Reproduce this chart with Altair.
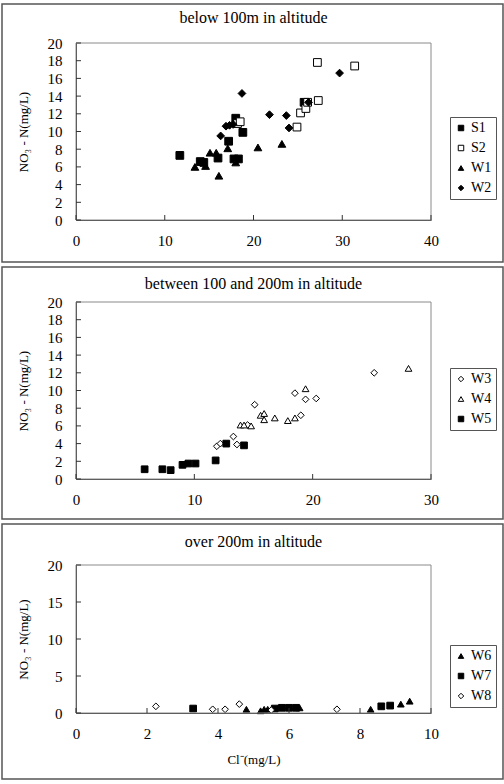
import altair as alt
import pandas as pd

# ---- below 100 m ----
S1_cl = [11.7, 14.0, 14.4, 16.0, 17.2, 18.0, 17.8, 18.3, 18.8, 25.7]
S1_no3 = [7.3, 6.6, 6.5, 7.0, 8.9, 11.5, 6.9, 6.9, 9.9, 13.3]
S2_cl = [18.2, 18.5, 24.9, 25.3, 25.9, 26.1, 27.3, 27.2, 31.4]
S2_no3 = [10.9, 11.1, 10.5, 12.1, 12.6, 13.3, 13.5, 17.8, 17.4]
W1_cl = [13.4, 14.6, 15.1, 15.8, 16.1, 17.1, 18.0, 20.5, 23.2]
W1_no3 = [6.0, 6.1, 7.6, 7.6, 5.0, 8.1, 6.5, 8.2, 8.6]
W2_cl = [16.3, 16.9, 17.3, 17.7, 18.7, 21.8, 23.7, 24.0, 26.2, 29.7]
W2_no3 = [9.5, 10.6, 10.7, 10.8, 14.3, 11.9, 11.8, 10.4, 13.3, 16.6]

# ---- between 100 and 200 m ----
W3_cl = [11.9, 12.2, 13.3, 13.6, 14.5, 15.1, 18.5, 19.0, 19.4, 20.3, 25.2]
W3_no3 = [3.7, 4.0, 4.8, 3.9, 6.1, 8.4, 9.7, 7.2, 9.0, 9.1, 12.0]
W4_cl = [13.9, 14.2, 14.8, 15.6, 15.9, 15.9, 16.8, 17.9, 18.5, 19.4, 28.1]
W4_no3 = [6.1, 6.1, 6.0, 7.2, 7.4, 6.7, 6.9, 6.6, 6.9, 10.2, 12.5]
W5_cl = [5.8, 7.3, 8.0, 9.0, 9.5, 10.1, 11.8, 12.7, 14.2]
W5_no3 = [1.1, 1.1, 1.0, 1.6, 1.75, 1.75, 2.1, 4.0, 3.8]

# ---- over 200 m ----
W6_cl = [4.8, 5.2, 5.3, 5.4, 6.3, 8.3, 9.15, 9.4]
W6_no3 = [0.5, 0.3, 0.5, 0.5, 0.7, 0.5, 1.2, 1.6]
W7_cl = [3.3, 5.6, 5.8, 6.0, 6.2, 8.6, 8.85]
W7_no3 = [0.6, 0.6, 0.7, 0.7, 0.7, 0.9, 1.0]
W8_cl = [2.25, 3.85, 4.2, 4.6, 5.5, 7.35]
W8_no3 = [0.9, 0.5, 0.5, 1.2, 0.4, 0.5]

FONT = "Liberation Serif"
W = 501
PX0, PX1 = 74, 429  # plot area left/right inside each box


def frame(series):
    rows = []
    for name, xs, ys in series:
        rows += [{"site": name, "cl": x, "no3": y} for x, y in zip(xs, ys)]
    return pd.DataFrame(rows)


def panel(series, shapes, fills, title, xmax, xticks, yticks, height, ytop, ybot,
          title_y, legend_y, size, xtitle=None):
    df = frame(series)
    names = [s[0] for s in series]
    xs = alt.Scale(domain=[0, xmax], range=[PX0, PX1], nice=False, zero=True)
    ys = alt.Scale(domain=[0, 20], range=[ybot, ytop], nice=False)

    common = dict(ticks=False, grid=False, labelOverlap=False, labelFlush=False,
                  labelFont=FONT, labelFontSize=15, labelColor="black",
                  titleFont=FONT, titleFontSize=13, titleFontWeight="normal",
                  titleColor="black", domainColor="#333", domainWidth=1)
    xaxis = alt.Axis(values=xticks, offset=-(height - ybot), labelPadding=13,
                     title=xtitle, titlePadding=12, **common)
    yaxis = alt.Axis(values=yticks, offset=-PX0, labelPadding=14,
                     title="NO₃ - N(mg/L)", titlePadding=17, **common)
    leg = alt.Legend(title=None, orient="none", legendX=448, legendY=legend_y,
                     strokeColor="#555", padding=4, rowPadding=6, symbolSize=30,
                     labelFont=FONT, labelFontSize=14, labelColor="black",
                     symbolOffset=0, labelOffset=3, fillColor="white",
                     symbolStrokeWidth=1)

    pts = alt.Chart(df).mark_point(filled=True, strokeWidth=1,
                                   size=size, opacity=1).encode(
        x=alt.X("cl:Q", scale=xs, axis=xaxis),
        y=alt.Y("no3:Q", scale=ys, axis=yaxis),
        shape=alt.Shape("site:N", scale=alt.Scale(domain=names, range=shapes), legend=leg),
        fill=alt.Fill("site:N", scale=alt.Scale(domain=names, range=fills), legend=leg),
        stroke=alt.Stroke("site:N", scale=alt.Scale(domain=names, range=["black"] * len(names)),
                          legend=leg),
    )

    box = alt.Chart(alt.Data(values=[{}])).mark_rect(
        fill=None, stroke="#8a8a8a", strokeWidth=1).encode(
        x=alt.value(PX0), x2=alt.value(PX1), y=alt.value(ytop), y2=alt.value(ybot))

    # inward tick marks along the left and bottom axis lines
    ytk = alt.Chart(pd.DataFrame({"t": yticks})).mark_rule(color="#333").encode(
        y=alt.Y("t:Q", scale=ys, axis=yaxis), x=alt.value(PX0), x2=alt.value(PX0 + 5))
    xtk = alt.Chart(pd.DataFrame({"t": xticks})).mark_rule(color="#333").encode(
        x=alt.X("t:Q", scale=xs, axis=xaxis), y=alt.value(ybot), y2=alt.value(ybot - 5))

    ttl = alt.Chart(alt.Data(values=[{}])).mark_text(
        font=FONT, fontSize=16, color="black", baseline="middle", align="center").encode(
        x=alt.value((PX0 + PX1) / 2), y=alt.value(title_y), text=alt.value(title))

    return alt.layer(pts, box, ytk, xtk, ttl).properties(width=W, height=height)


p1 = panel(
    [("S1", S1_cl, S1_no3), ("S2", S2_cl, S2_no3), ("W1", W1_cl, W1_no3), ("W2", W2_cl, W2_no3)],
    ["square", "square", "triangle-up", "diamond"], ["black", "white", "black", "black"],
    "below 100m in altitude", 40, [0, 10, 20, 30, 40], list(range(0, 21, 2)),
    258, 39, 216, 14, 113, 60)

p2 = panel(
    [("W3", W3_cl, W3_no3), ("W4", W4_cl, W4_no3), ("W5", W5_cl, W5_no3)],
    ["diamond", "triangle-up", "square"], ["white", "white", "black"],
    "between 100 and 200m in altitude", 30, [0, 10, 20, 30], list(range(0, 21, 2)),
    252, 35, 212, 17, 101, 45)

p3 = panel(
    [("W6", W6_cl, W6_no3), ("W7", W7_cl, W7_no3), ("W8", W8_cl, W8_no3)],
    ["triangle-up", "square", "diamond"], ["black", "black", "white"],
    "over 200m in altitude", 10, [0, 2, 4, 6, 8, 10], [0, 5, 10, 15, 20],
    255, 41, 189, 18, 121, 45, xtitle="Cl⁻(mg/L)")

chart = alt.vconcat(p1, p2, p3, spacing=3).resolve_scale(
    x="independent", y="independent", shape="independent", fill="independent",
    stroke="independent"
).properties(
    padding={"left": 1, "top": 3, "right": 0, "bottom": 0}
).configure_view(
    stroke="#555", strokeWidth=1.5
)

chart.save("out.html", embed_options={"renderer": "svg", "actions": False})
